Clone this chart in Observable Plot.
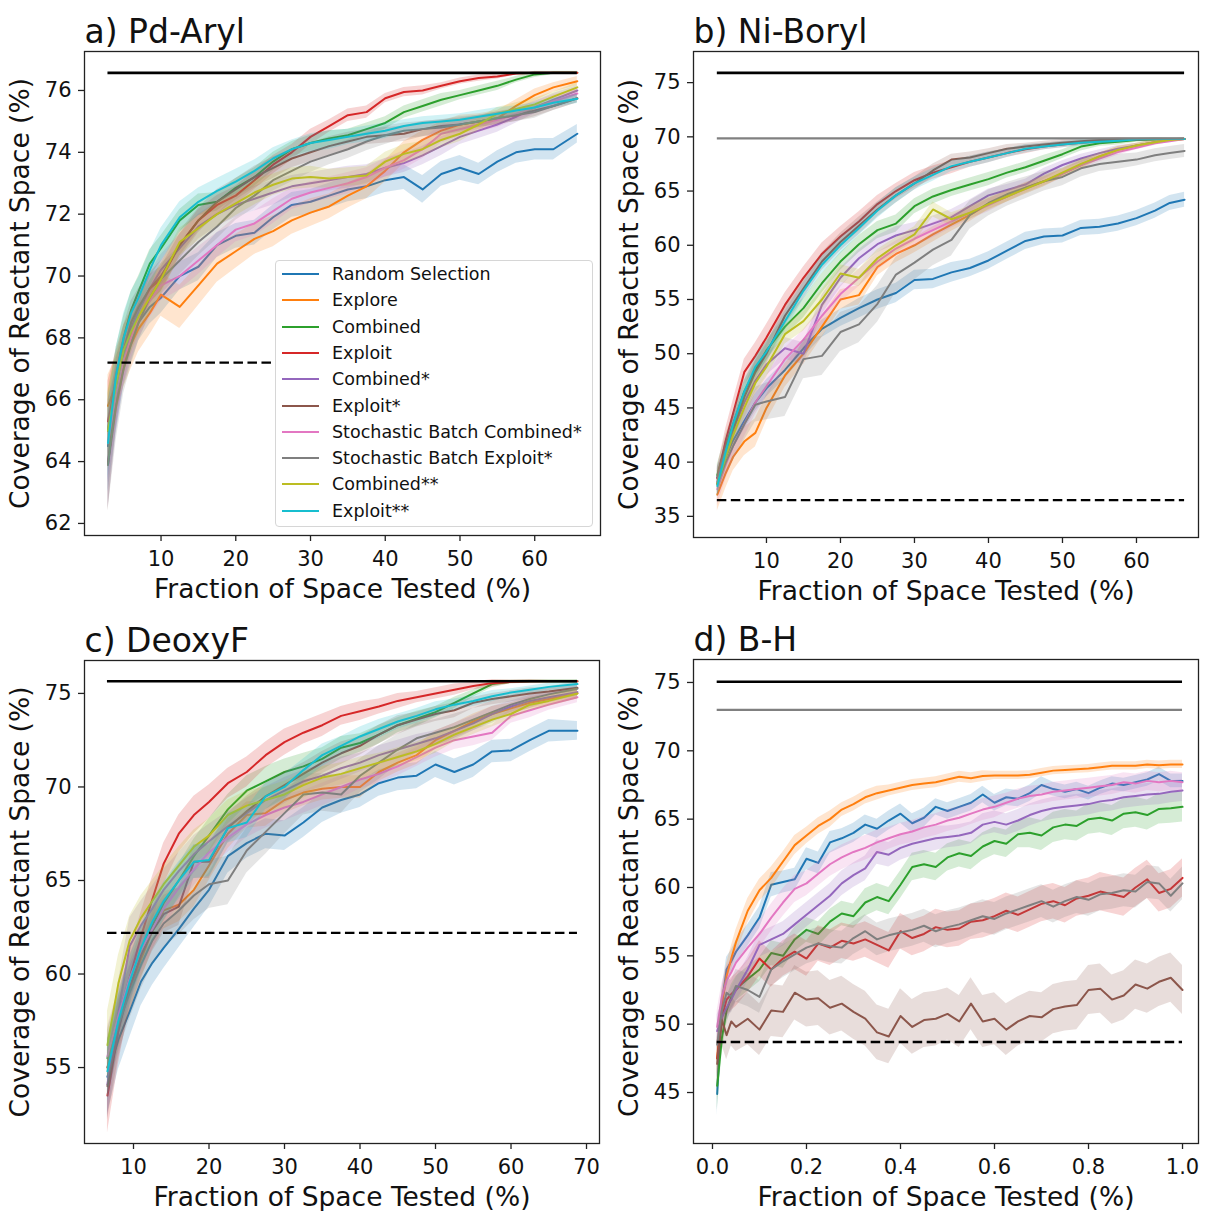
<!DOCTYPE html>
<html>
<head>
<meta charset="utf-8">
<script src="https://cdn.jsdelivr.net/npm/d3@7"></script>
<script src="https://cdn.jsdelivr.net/npm/@observablehq/plot@0.6"></script>
<style>
  html, body { margin: 0; padding: 0; background: #ffffff; }
  #fig { position: relative; width: 1207px; height: 1211px; background: #ffffff; font-family: "DejaVu Sans", sans-serif; overflow: hidden; }
  .panel { position: absolute; }
  .panel svg { display: block; overflow: visible; }
  #legend { position: absolute; left: 275px; top: 260px; width: 318px; height: 267px; box-sizing: border-box;
            background: #ffffff; border: 1px solid #d6d6d6; border-radius: 4px; }
  .lg-row { position: absolute; left: 0; height: 26px; width: 100%; }
  .lg-line { position: absolute; left: 6px; top: 12px; width: 37px; height: 2px; }
  .lg-text { position: absolute; left: 56px; top: 0; line-height: 26px; font-size: 17.5px; color: #111; white-space: nowrap; font-family: "DejaVu Sans", sans-serif; }
  #err { position: absolute; left: 10px; top: 10px; color: red; font-size: 14px; }
</style>
</head>
<body>
<div id="fig"></div>
<script>
// ---------------- series ----------------
const seriesNames = ["Random Selection", "Explore", "Combined", "Exploit", "Combined*", "Exploit*",
  "Stochastic Batch Combined*", "Stochastic Batch Exploit*", "Combined**", "Exploit**"];
const palette = ["#1f77b4", "#ff7f0e", "#2ca02c", "#d62728", "#9467bd", "#8c564b",
  "#e377c2", "#7f7f7f", "#bcbd22", "#17becf"];

// ---------------- a) Pd-Aryl ----------------
const xA = [2.9, 4, 5, 6, 7, 8.5, 10, 12.5, 15, 17.5, 20, 22.5, 25, 27.5, 30, 32.5, 35, 37.5, 40, 42.5, 45, 47.5, 50, 52.5, 55, 57.5, 60, 62.5, 65.7];
const meanA = [
  [64.5, 66.0, 67.2, 67.9, 68.5, 69.0, 69.3, 70.0, 70.3, 71.0, 71.3, 71.4, 71.9, 72.3, 72.4, 72.6, 72.8, 72.9, 73.1, 73.2, 72.8, 73.3, 73.5, 73.3, 73.7, 74.0, 74.1, 74.1, 74.6],
  [65.8, 66.5, 67.2, 67.8, 68.3, 68.8, 69.4, 69.0, 69.7, 70.4, 70.8, 71.2, 71.45, 71.8, 72.05, 72.25, 72.6, 72.9, 73.4, 74.0, 74.4, 74.7, 74.9, 75.0, 75.1, 75.5, 75.85, 76.1, 76.3],
  [65.0, 66.8, 68.0, 68.9, 69.5, 70.4, 70.9, 71.8, 72.3, 72.4, 72.85, 73.2, 73.7, 74.1, 74.3, 74.45, 74.55, 74.75, 74.95, 75.3, 75.5, 75.7, 75.85, 76.0, 76.15, 76.35, 76.52, 76.57, 76.57],
  [65.3, 66.6, 67.6, 68.3, 68.9, 69.6, 69.9, 71.0, 71.8, 72.3, 72.6, 73.1, 73.6, 74.0, 74.5, 74.85, 75.2, 75.3, 75.75, 75.95, 76.0, 76.15, 76.3, 76.4, 76.45, 76.55, 76.57, 76.57, 76.57],
  [64.0, 66.0, 67.3, 68.2, 68.9, 69.6, 70.2, 70.9, 71.6, 72.0, 72.3, 72.5, 72.7, 72.9, 73.0, 73.1, 73.2, 73.3, 73.5, 73.65, 73.9, 74.2, 74.5, 74.7, 74.9, 75.15, 75.45, 75.7, 76.0],
  [63.9, 66.2, 67.6, 68.5, 69.0, 69.6, 70.0, 71.0, 71.8, 72.4, 72.8, 73.2, 73.5, 73.8, 74.0, 74.2, 74.35, 74.5, 74.55, 74.6, 74.75, 74.85, 74.9, 75.0, 75.1, 75.2, 75.35, 75.5, 75.75],
  [64.6, 66.2, 67.3, 68.0, 68.6, 69.2, 69.7, 70.0, 70.5, 71.0, 71.5, 71.7, 72.1, 72.5, 72.7, 72.85, 73.0, 73.2, 73.5, 73.75, 74.1, 74.6, 74.75, 74.9, 75.05, 75.25, 75.45, 75.65, 75.9],
  [63.9, 65.8, 67.0, 67.8, 68.5, 69.3, 69.9, 70.5, 71.1, 71.6, 72.2, 72.6, 73.1, 73.4, 73.7, 73.9, 74.1, 74.35, 74.55, 74.7, 74.75, 74.8, 74.9, 75.0, 75.1, 75.2, 75.3, 75.5, 75.75],
  [65.0, 66.5, 67.6, 68.2, 68.7, 69.3, 69.9, 71.1, 71.55, 72.0, 72.35, 72.7, 72.95, 73.15, 73.2, 73.15, 73.2, 73.25, 73.7, 73.95, 74.1, 74.4, 74.6, 74.9, 75.25, 75.4, 75.55, 75.8, 76.1],
  [64.6, 66.8, 68.0, 68.8, 69.3, 70.2, 71.0, 71.9, 72.4, 72.75, 73.05, 73.4, 73.8, 74.1, 74.3, 74.4, 74.5, 74.6, 74.7, 74.85, 74.95, 75.0, 75.05, 75.15, 75.25, 75.35, 75.45, 75.6, 75.73]
];
const errA = [
  [1.5, 1.0, 0.8, 0.7, 0.6, 0.55, 0.5, 0.45, 0.45, 0.4, 0.4, 0.4, 0.4, 0.4, 0.4, 0.4, 0.4, 0.4, 0.4, 0.4, 0.45, 0.4, 0.4, 0.35, 0.35, 0.35, 0.35, 0.35, 0.3],
  [1.0, 0.9, 0.8, 0.8, 0.75, 0.7, 0.7, 0.7, 0.65, 0.6, 0.55, 0.5, 0.5, 0.45, 0.45, 0.4, 0.4, 0.4, 0.35, 0.35, 0.3, 0.3, 0.3, 0.25, 0.25, 0.2, 0.2, 0.15, 0.15],
  [1.2, 0.9, 0.7, 0.6, 0.5, 0.45, 0.4, 0.35, 0.35, 0.3, 0.3, 0.3, 0.3, 0.25, 0.25, 0.25, 0.2, 0.2, 0.2, 0.2, 0.2, 0.2, 0.15, 0.15, 0.15, 0.1, 0.1, 0.05, 0.05],
  [1.3, 1.0, 0.8, 0.6, 0.5, 0.45, 0.4, 0.35, 0.35, 0.3, 0.3, 0.3, 0.3, 0.25, 0.25, 0.2, 0.2, 0.2, 0.15, 0.15, 0.15, 0.1, 0.1, 0.1, 0.08, 0.05, 0.03, 0.03, 0.03],
  [1.5, 1.1, 0.8, 0.7, 0.6, 0.5, 0.5, 0.45, 0.4, 0.4, 0.4, 0.4, 0.4, 0.35, 0.35, 0.35, 0.35, 0.3, 0.3, 0.3, 0.3, 0.3, 0.25, 0.25, 0.25, 0.2, 0.2, 0.2, 0.15],
  [1.5, 1.1, 0.8, 0.7, 0.6, 0.5, 0.5, 0.45, 0.4, 0.4, 0.35, 0.35, 0.35, 0.3, 0.3, 0.3, 0.3, 0.25, 0.25, 0.25, 0.25, 0.2, 0.2, 0.2, 0.2, 0.2, 0.2, 0.15, 0.15],
  [1.3, 1.0, 0.8, 0.7, 0.6, 0.55, 0.5, 0.45, 0.45, 0.4, 0.4, 0.4, 0.4, 0.35, 0.35, 0.35, 0.35, 0.3, 0.3, 0.3, 0.3, 0.3, 0.25, 0.25, 0.25, 0.2, 0.2, 0.2, 0.15],
  [1.5, 1.1, 0.8, 0.7, 0.6, 0.55, 0.5, 0.45, 0.45, 0.4, 0.4, 0.4, 0.35, 0.35, 0.35, 0.3, 0.3, 0.3, 0.3, 0.25, 0.25, 0.25, 0.25, 0.2, 0.2, 0.2, 0.2, 0.15, 0.15],
  [1.3, 1.0, 0.8, 0.7, 0.6, 0.55, 0.5, 0.45, 0.4, 0.4, 0.4, 0.4, 0.35, 0.35, 0.35, 0.3, 0.3, 0.3, 0.3, 0.3, 0.25, 0.25, 0.25, 0.2, 0.2, 0.2, 0.2, 0.15, 0.15],
  [1.2, 0.9, 0.8, 0.7, 0.65, 0.6, 0.55, 0.5, 0.45, 0.4, 0.4, 0.35, 0.35, 0.3, 0.3, 0.3, 0.25, 0.25, 0.25, 0.2, 0.2, 0.2, 0.2, 0.2, 0.2, 0.15, 0.15, 0.15, 0.15]
];
const solidA = [76.57];
const grayA = [];
const dashA = [67.2];

// ---------------- b) Ni-Boryl ----------------
const xB = [3.36, 4.5, 5.5, 7, 8.5, 10, 12.5, 15, 17.5, 20, 22.5, 25, 27.5, 30, 32.5, 35, 37.5, 40, 42.5, 45, 47.5, 50, 52.5, 55, 57.5, 60, 62.5, 64.5, 66.5];
const meanB = [
  [38.6, 40.5, 42.0, 43.8, 45.5, 46.8, 48.5, 50.5, 52.3, 53.3, 54.2, 55.0, 55.6, 56.8, 56.9, 57.5, 57.9, 58.6, 59.5, 60.4, 60.8, 60.9, 61.6, 61.7, 62.0, 62.5, 63.2, 63.9, 64.2],
  [37.0, 39.0, 40.5, 41.9, 42.7, 45.0, 48.0, 50.0, 52.5, 55.0, 55.4, 58.0, 59.2, 60.0, 61.0, 61.9, 62.8, 63.8, 64.5, 65.3, 65.9, 66.6, 67.4, 68.2, 68.8, 69.2, 69.5, 69.7, 69.8],
  [38.8, 41.5, 43.5, 46.5, 48.5, 50.3, 52.5, 54.2, 56.5, 58.5, 60.1, 61.4, 62.0, 63.6, 64.5, 65.1, 65.6, 66.1, 66.7, 67.2, 67.8, 68.4, 69.1, 69.4, 69.55, 69.7, 69.75, 69.8, 69.8],
  [38.5, 42.0, 44.5, 48.3, 49.8, 51.5, 54.5, 57.0, 59.2, 60.8, 62.2, 63.8, 65.0, 66.0, 66.7, 67.2, 67.7, 68.1, 68.5, 68.85, 69.1, 69.3, 69.45, 69.6, 69.7, 69.75, 69.8, 69.8, 69.8],
  [38.2, 41.0, 43.0, 45.5, 47.5, 49.0, 50.5, 50.0, 54.5, 57.0, 58.8, 60.1, 60.9, 61.4, 62.0, 62.6, 63.6, 64.6, 65.1, 65.6, 66.6, 67.4, 68.0, 68.5, 68.9, 69.2, 69.5, 69.7, 69.8],
  [38.0, 41.0, 43.0, 46.0, 48.3, 50.0, 53.5, 56.0, 58.5, 60.3, 61.8, 63.3, 64.6, 65.7, 66.9, 67.9, 68.1, 68.5, 68.9, 69.1, 69.3, 69.45, 69.6, 69.7, 69.75, 69.8, 69.8, 69.8, 69.8],
  [37.5, 39.8, 41.5, 43.5, 45.5, 47.0, 49.5, 51.3, 53.5, 55.5, 57.0, 58.5, 59.7, 60.6, 61.4, 62.2, 63.0, 63.7, 64.5, 65.2, 65.9, 66.6, 67.4, 68.0, 68.6, 69.0, 69.4, 69.6, 69.8],
  [38.0, 40.0, 41.5, 43.5, 45.3, 45.6, 46.0, 49.5, 49.8, 52.0, 52.7, 54.6, 57.3, 58.4, 59.6, 60.5, 62.8, 63.9, 64.7, 65.3, 65.9, 66.3, 67.1, 67.5, 67.7, 67.9, 68.3, 68.5, 68.7],
  [38.0, 40.5, 42.5, 45.0, 47.3, 48.8, 51.8, 53.0, 55.0, 57.4, 57.0, 58.8, 60.0, 61.0, 63.3, 62.4, 63.0, 63.8, 64.5, 65.2, 65.9, 66.7, 67.5, 68.2, 68.8, 69.2, 69.5, 69.7, 69.8],
  [37.8, 41.0, 43.5, 46.5, 48.8, 50.2, 53.0, 55.8, 58.2, 60.0, 61.6, 63.2, 64.6, 65.7, 66.5, 67.3, 67.7, 68.1, 68.5, 68.9, 69.1, 69.3, 69.45, 69.55, 69.65, 69.75, 69.8, 69.8, 69.8]
];
const errB = [
  [1.0, 0.9, 0.8, 0.8, 0.8, 0.8, 0.8, 0.8, 0.8, 0.8, 0.9, 0.9, 0.9, 0.9, 0.9, 0.9, 0.8, 0.8, 0.8, 0.8, 0.7, 0.7, 0.7, 0.7, 0.7, 0.7, 0.7, 0.7, 0.7],
  [1.5, 1.4, 1.3, 1.3, 1.3, 1.2, 1.1, 1.0, 1.0, 0.9, 0.9, 0.8, 0.8, 0.7, 0.7, 0.6, 0.6, 0.5, 0.5, 0.5, 0.4, 0.4, 0.4, 0.3, 0.3, 0.2, 0.2, 0.1, 0.1],
  [1.0, 1.0, 1.0, 1.0, 0.9, 0.9, 0.9, 0.9, 0.9, 0.8, 0.8, 0.8, 0.8, 0.7, 0.7, 0.6, 0.6, 0.6, 0.5, 0.5, 0.5, 0.4, 0.4, 0.3, 0.3, 0.2, 0.2, 0.1, 0.1],
  [1.0, 1.1, 1.2, 1.2, 1.2, 1.2, 1.1, 1.0, 1.0, 0.9, 0.9, 0.8, 0.7, 0.7, 0.6, 0.6, 0.5, 0.5, 0.4, 0.4, 0.3, 0.3, 0.2, 0.2, 0.2, 0.1, 0.1, 0.1, 0.1],
  [1.2, 1.0, 1.0, 1.0, 1.0, 1.0, 1.0, 1.0, 0.9, 0.9, 0.8, 0.8, 0.8, 0.7, 0.7, 0.7, 0.6, 0.6, 0.5, 0.5, 0.5, 0.4, 0.4, 0.3, 0.3, 0.2, 0.2, 0.1, 0.1],
  [1.0, 1.0, 1.0, 1.0, 1.0, 0.9, 0.9, 0.9, 0.8, 0.8, 0.8, 0.7, 0.7, 0.6, 0.6, 0.5, 0.5, 0.4, 0.4, 0.3, 0.3, 0.3, 0.2, 0.2, 0.2, 0.1, 0.1, 0.1, 0.1],
  [1.5, 1.4, 1.3, 1.2, 1.1, 1.0, 1.0, 0.9, 0.9, 0.8, 0.8, 0.8, 0.7, 0.7, 0.7, 0.6, 0.6, 0.6, 0.5, 0.5, 0.5, 0.4, 0.4, 0.3, 0.3, 0.2, 0.2, 0.1, 0.1],
  [1.2, 1.3, 1.4, 1.5, 1.6, 1.7, 1.8, 1.8, 1.8, 1.8, 1.7, 1.7, 1.6, 1.6, 1.5, 1.5, 1.3, 1.2, 1.1, 1.0, 0.9, 0.8, 0.8, 0.7, 0.7, 0.6, 0.6, 0.6, 0.6],
  [1.2, 1.1, 1.0, 1.0, 1.0, 1.0, 0.9, 0.9, 0.9, 0.8, 0.8, 0.8, 0.7, 0.7, 0.7, 0.6, 0.6, 0.6, 0.5, 0.5, 0.5, 0.4, 0.4, 0.3, 0.3, 0.2, 0.2, 0.1, 0.1],
  [1.0, 1.0, 1.0, 1.0, 0.9, 0.9, 0.9, 0.8, 0.8, 0.8, 0.7, 0.7, 0.7, 0.6, 0.6, 0.5, 0.5, 0.5, 0.4, 0.4, 0.3, 0.3, 0.3, 0.2, 0.2, 0.1, 0.1, 0.1, 0.1]
];
const solidB = [75.9];
const grayB = [69.85];
const dashB = [36.5];

// ---------------- c) DeoxyF ----------------
const xC = [6.55, 8, 9.5, 11, 12.5, 14, 16, 18, 20, 22.5, 25, 27.5, 30, 32.5, 35, 37.5, 40, 42.5, 45, 47.5, 50, 52.5, 55, 57.5, 60, 62.5, 65, 68.8];
const meanC = [
  [54.5, 56.5, 58.0, 59.6, 60.6, 61.4, 62.4, 63.5, 64.5, 66.3, 67.0, 67.5, 67.4, 68.1, 68.9, 69.3, 69.6, 70.2, 70.5, 70.6, 71.2, 70.8, 71.2, 71.9, 71.95, 72.5, 73.0, 73.0],
  [55.0, 57.3, 59.2, 60.8, 62.3, 63.4, 63.7, 64.5, 65.8, 67.5, 68.5, 68.6, 69.3, 69.7, 69.9, 70.0, 70.0, 70.8, 71.3, 71.7, 72.5, 73.0, 73.5, 73.9, 74.2, 74.5, 74.7, 75.0],
  [55.5, 57.8, 59.8, 61.3, 62.6, 63.8, 65.0, 66.3, 67.4, 68.8, 69.8, 70.3, 70.8, 71.1, 71.5, 72.1, 72.35, 72.8, 73.3, 73.65, 74.0, 74.5, 75.0, 75.5, 75.62, 75.65, 75.65, 75.65],
  [53.5, 57.0, 59.8, 62.0, 64.0, 65.9, 67.5, 68.5, 69.2, 70.2, 70.8, 71.7, 72.4, 72.9, 73.3, 73.8, 74.05, 74.3, 74.6, 74.8, 75.0, 75.2, 75.4, 75.55, 75.62, 75.65, 75.65, 75.65],
  [54.1, 58.0, 61.5, 62.6, 63.5, 64.5, 65.5, 66.4, 67.1, 67.9, 68.6, 69.3, 69.8, 70.3, 70.6, 71.0, 71.3, 71.7, 72.0, 72.3, 72.6, 73.0, 73.4, 73.9, 74.3, 74.6, 74.8, 75.07],
  [54.0, 57.0, 59.3, 61.0, 62.3, 63.2, 63.6, 66.0, 66.0, 67.8, 68.7, 69.5, 70.1, 70.7, 71.3, 71.8, 72.2, 72.8, 73.3, 73.6, 73.9, 74.1, 74.5, 74.7, 74.85, 75.0, 75.1, 75.3],
  [55.6, 57.8, 59.8, 61.3, 62.4, 63.5, 64.6, 65.6, 66.5, 67.3, 68.0, 68.5, 68.9, 69.2, 69.6, 70.0, 70.4, 70.7, 71.1, 71.6, 72.1, 72.5, 72.7, 72.9, 73.8, 74.1, 74.4, 74.8],
  [55.0, 57.3, 59.0, 60.5, 61.8, 62.7, 63.4, 64.2, 64.8, 65.0, 66.6, 67.6, 68.6, 69.6, 69.7, 69.6, 70.6, 71.3, 72.0, 72.6, 72.9, 73.2, 73.6, 74.0, 74.4, 74.7, 74.95, 75.25],
  [56.2, 59.5, 61.8, 63.0, 63.9, 64.8, 65.8, 66.8, 67.4, 68.5, 69.0, 69.3, 69.6, 70.1, 70.5, 70.7, 71.0, 71.3, 71.6, 71.9, 72.3, 72.8, 73.2, 73.6, 73.9, 74.4, 74.6, 75.0],
  [54.8, 57.5, 59.6, 61.4, 62.8, 63.9, 65.0, 66.0, 66.1, 67.8, 68.1, 69.5, 70.0, 70.9, 71.7, 72.2, 72.7, 73.1, 73.5, 73.8, 74.15, 74.4, 74.6, 74.85, 75.05, 75.2, 75.35, 75.5]
];
const errC = [
  [2.0, 1.6, 1.4, 1.3, 1.2, 1.1, 1.0, 1.0, 0.9, 0.9, 0.8, 0.8, 0.8, 0.8, 0.8, 0.7, 0.7, 0.7, 0.7, 0.7, 0.7, 0.7, 0.7, 0.6, 0.6, 0.6, 0.6, 0.5],
  [1.5, 1.3, 1.2, 1.1, 1.0, 1.0, 0.9, 0.9, 0.8, 0.8, 0.7, 0.7, 0.7, 0.7, 0.6, 0.6, 0.6, 0.5, 0.5, 0.5, 0.5, 0.4, 0.4, 0.4, 0.3, 0.3, 0.3, 0.3],
  [1.5, 1.3, 1.2, 1.1, 1.0, 1.0, 0.9, 0.9, 0.9, 0.8, 0.8, 0.8, 0.7, 0.7, 0.6, 0.6, 0.5, 0.5, 0.4, 0.4, 0.3, 0.3, 0.2, 0.2, 0.1, 0.1, 0.1, 0.1],
  [2.0, 1.8, 1.5, 1.3, 1.2, 1.1, 1.0, 1.0, 0.9, 0.8, 0.8, 0.7, 0.7, 0.6, 0.6, 0.5, 0.5, 0.4, 0.4, 0.3, 0.3, 0.3, 0.2, 0.2, 0.1, 0.1, 0.05, 0.05],
  [1.8, 1.6, 1.5, 1.3, 1.2, 1.1, 1.0, 1.0, 0.9, 0.8, 0.8, 0.7, 0.7, 0.6, 0.6, 0.6, 0.5, 0.5, 0.5, 0.5, 0.4, 0.4, 0.4, 0.4, 0.3, 0.3, 0.3, 0.3],
  [1.8, 1.5, 1.3, 1.2, 1.1, 1.0, 1.0, 0.9, 0.9, 0.8, 0.8, 0.7, 0.7, 0.6, 0.6, 0.6, 0.5, 0.5, 0.5, 0.4, 0.4, 0.4, 0.3, 0.3, 0.3, 0.3, 0.2, 0.2],
  [1.6, 1.4, 1.3, 1.2, 1.1, 1.0, 0.9, 0.9, 0.8, 0.8, 0.7, 0.7, 0.7, 0.6, 0.6, 0.6, 0.5, 0.5, 0.5, 0.5, 0.5, 0.5, 0.5, 0.4, 0.4, 0.4, 0.3, 0.3],
  [1.6, 1.5, 1.4, 1.3, 1.3, 1.3, 1.3, 1.3, 1.3, 1.3, 1.2, 1.2, 1.1, 1.1, 1.0, 1.0, 0.9, 0.9, 0.8, 0.8, 0.7, 0.7, 0.6, 0.6, 0.5, 0.5, 0.4, 0.4],
  [1.8, 1.5, 1.3, 1.2, 1.1, 1.0, 1.0, 0.9, 0.9, 0.8, 0.8, 0.7, 0.7, 0.7, 0.6, 0.6, 0.6, 0.5, 0.5, 0.5, 0.5, 0.4, 0.4, 0.4, 0.3, 0.3, 0.3, 0.3],
  [1.6, 1.4, 1.3, 1.2, 1.1, 1.0, 1.0, 0.9, 0.9, 0.8, 0.8, 0.7, 0.7, 0.6, 0.6, 0.5, 0.5, 0.5, 0.4, 0.4, 0.4, 0.3, 0.3, 0.3, 0.2, 0.2, 0.2, 0.2]
];
const solidC = [75.65];
const grayC = [];
const dashC = [62.2];

// ---------------- d) B-H ----------------
const xD = [0.01, 0.02, 0.03, 0.04, 0.05, 0.075, 0.1, 0.125, 0.15, 0.175, 0.2, 0.225, 0.25, 0.275, 0.3, 0.325, 0.35, 0.375, 0.4, 0.425,
  0.45, 0.475, 0.5, 0.525, 0.55, 0.575, 0.6, 0.625, 0.65, 0.675, 0.7, 0.725, 0.75, 0.775, 0.8, 0.825, 0.85, 0.875, 0.9, 0.925, 0.95, 0.975, 1.0];
const meanD = [
  [44.9, 51.5, 54.0, 54.6, 55.3, 56.5, 57.8, 60.2, 60.4, 60.6, 62.1, 61.8, 63.3, 63.6, 64.0, 64.6, 64.3, 64.9, 65.4, 64.7, 65.1, 65.9, 65.6, 65.9, 66.2, 66.8, 66.2, 66.6, 66.5, 66.9, 67.5, 67.2, 67.0, 67.2, 66.9, 67.3, 67.6, 67.5, 67.7, 67.9, 68.3, 67.8, 67.8],
  [47.5, 51.5, 53.5, 54.8, 56.0, 58.3, 59.8, 60.7, 61.9, 63.1, 63.8, 64.5, 65.0, 65.7, 66.1, 66.6, 66.9, 67.1, 67.3, 67.5, 67.6, 67.7, 67.9, 68.1, 68.0, 68.15, 68.2, 68.2, 68.2, 68.25, 68.4, 68.55, 68.6, 68.65, 68.7, 68.8, 68.9, 68.9, 68.9, 69.0, 68.95, 69.0, 69.0],
  [45.5, 49.0, 51.0, 52.0, 52.6, 53.3, 54.0, 55.2, 55.0, 56.2, 56.9, 56.6, 57.5, 58.1, 57.9, 58.9, 59.3, 59.0, 60.2, 61.5, 61.7, 61.5, 62.2, 62.5, 62.3, 63.0, 63.4, 63.2, 63.9, 64.0, 63.8, 64.4, 64.6, 64.5, 65.0, 65.1, 64.9, 65.4, 65.5, 65.3, 65.75, 65.8, 65.9],
  [47.5, 50.5, 51.8, 52.2, 52.5, 53.5, 54.8, 54.0, 54.8, 55.3, 54.8, 55.9, 55.6, 56.1, 55.9, 56.2, 55.8, 55.4, 56.8, 56.3, 56.6, 57.1, 56.9, 57.0, 57.5, 57.6, 57.9, 58.3, 58.0, 58.4, 58.8, 59.0, 58.7, 59.2, 59.4, 59.7, 59.5, 59.3, 60.0, 60.6, 59.6, 59.9, 60.7],
  [49.5, 50.5, 51.2, 51.8, 52.5, 54.0, 55.8, 56.2, 56.6, 57.3, 58.0, 58.7, 59.4, 60.3, 60.9, 61.4, 62.6, 62.4, 62.9, 63.2, 63.4, 63.6, 63.7, 63.8, 64.0, 64.6, 64.8, 64.6, 64.9, 65.3, 65.6, 65.8, 65.9, 66.0, 66.1, 66.3, 66.4, 66.6, 66.7, 66.8, 66.85, 67.0, 67.1],
  [47.1, 50.3, 49.2, 50.2, 49.8, 50.4, 49.6, 51.0, 50.9, 52.3, 51.8, 51.9, 51.2, 51.5, 50.9, 50.4, 49.4, 49.1, 50.6, 49.8, 50.3, 50.4, 50.75, 50.2, 51.5, 50.2, 50.4, 49.6, 50.2, 50.6, 50.5, 51.1, 51.3, 51.4, 52.5, 52.6, 51.8, 52.1, 52.9, 52.6, 53.1, 53.4, 52.5],
  [49.8, 52.0, 53.2, 53.8, 54.5, 55.6, 56.6, 57.8, 58.9, 59.9, 60.3, 61.0, 61.7, 62.2, 62.6, 62.9, 63.3, 63.6, 63.9, 64.1, 64.4, 64.6, 64.9, 65.1, 65.4, 65.7, 65.9, 66.2, 66.5, 66.7, 66.8, 67.0, 67.1, 67.2, 67.3, 67.4, 67.5, 67.7, 67.6, 67.8, 67.7, 67.8, 67.7],
  [48.5, 51.0, 52.3, 52.0, 52.8, 52.5, 52.0, 54.0, 54.6, 55.1, 55.6, 55.9, 55.7, 55.6, 56.3, 56.8, 56.2, 56.5, 56.7, 56.9, 57.2, 56.8, 57.1, 57.3, 57.6, 57.9, 57.7, 58.1, 58.4, 58.7, 59.0, 58.6, 59.0, 59.3, 59.1, 59.5, 59.6, 59.8, 59.7, 60.4, 60.3, 59.4, 60.3]
];
const errD = [
  [1.6, 1.1, 0.9, 0.8, 0.8, 0.8, 0.8, 0.9, 0.8, 0.8, 0.8, 0.8, 0.8, 0.7, 0.7, 0.7, 0.7, 0.7, 0.7, 0.7, 0.7, 0.6, 0.6, 0.6, 0.6, 0.6, 0.6, 0.6, 0.6, 0.6, 0.6, 0.5, 0.5, 0.5, 0.5, 0.5, 0.5, 0.5, 0.5, 0.5, 0.5, 0.5, 0.5],
  [1.2, 1.0, 0.9, 0.9, 0.9, 0.9, 0.8, 0.8, 0.7, 0.7, 0.6, 0.6, 0.6, 0.5, 0.5, 0.5, 0.5, 0.4, 0.4, 0.4, 0.4, 0.4, 0.4, 0.4, 0.4, 0.4, 0.3, 0.3, 0.3, 0.3, 0.3, 0.3, 0.3, 0.3, 0.3, 0.3, 0.3, 0.3, 0.3, 0.3, 0.3, 0.3, 0.3],
  [1.8, 1.3, 1.0, 0.9, 0.9, 0.9, 0.9, 0.9, 0.9, 0.9, 0.9, 0.9, 0.9, 0.9, 0.9, 1.0, 1.0, 1.0, 1.0, 1.0, 1.0, 1.0, 1.0, 1.0, 1.0, 1.0, 1.0, 1.0, 1.0, 1.1, 1.1, 1.1, 1.1, 1.1, 1.1, 1.1, 1.1, 1.1, 1.1, 1.1, 1.1, 1.1, 1.1],
  [1.5, 1.3, 1.2, 1.2, 1.2, 1.2, 1.3, 1.3, 1.3, 1.3, 1.3, 1.3, 1.3, 1.3, 1.3, 1.3, 1.3, 1.3, 1.3, 1.3, 1.3, 1.3, 1.3, 1.3, 1.3, 1.3, 1.3, 1.3, 1.3, 1.3, 1.3, 1.3, 1.3, 1.3, 1.3, 1.4, 1.4, 1.4, 1.4, 1.4, 1.4, 1.4, 1.4],
  [1.2, 1.0, 0.9, 0.9, 0.9, 0.9, 0.9, 0.9, 0.9, 0.9, 0.9, 0.9, 0.9, 0.9, 0.9, 0.9, 0.9, 0.9, 0.9, 0.9, 0.9, 0.9, 0.8, 0.8, 0.8, 0.8, 0.8, 0.8, 0.8, 0.8, 0.8, 0.8, 0.8, 0.8, 0.8, 0.8, 0.8, 0.8, 0.8, 0.8, 0.8, 0.8, 0.8],
  [1.8, 1.8, 1.8, 1.8, 1.8, 1.9, 1.9, 1.9, 1.9, 2.0, 2.0, 2.0, 2.0, 2.0, 2.0, 2.0, 2.0, 2.0, 2.0, 2.0, 2.0, 2.0, 1.9, 1.9, 1.9, 1.9, 1.9, 1.9, 1.8, 1.8, 1.8, 1.8, 1.8, 1.8, 1.8, 1.8, 1.8, 1.8, 1.8, 1.8, 1.8, 1.8, 1.8],
  [1.2, 1.0, 1.0, 1.0, 1.0, 1.0, 1.0, 1.0, 1.0, 1.0, 0.9, 0.9, 0.9, 0.9, 0.9, 0.9, 0.9, 0.8, 0.8, 0.8, 0.8, 0.8, 0.8, 0.8, 0.8, 0.8, 0.8, 0.7, 0.7, 0.7, 0.7, 0.7, 0.7, 0.7, 0.7, 0.7, 0.7, 0.7, 0.7, 0.7, 0.7, 0.7, 0.7],
  [1.5, 1.3, 1.2, 1.2, 1.2, 1.2, 1.2, 1.2, 1.2, 1.2, 1.2, 1.2, 1.2, 1.2, 1.2, 1.2, 1.2, 1.2, 1.2, 1.2, 1.2, 1.2, 1.2, 1.2, 1.2, 1.2, 1.2, 1.2, 1.2, 1.2, 1.2, 1.2, 1.2, 1.2, 1.2, 1.2, 1.2, 1.2, 1.2, 1.2, 1.2, 1.2, 1.2]
];
const solidD = [75.05];
const grayD = [73.0];
const dashD = [48.7];

// ---------------- text ----------------
const titles = ["a) Pd-Aryl", "b) Ni-Boryl", "c) DeoxyF", "d) B-H"];
const xLabel = "Fraction of Space Tested (%)";
const yLabel = "Coverage of Reactant Space (%)";
const ticksA = {x: [10, 20, 30, 40, 50, 60], y: [62, 64, 66, 68, 70, 72, 74, 76]};
const ticksB = {x: [10, 20, 30, 40, 50, 60], y: [35, 40, 45, 50, 55, 60, 65, 70, 75]};
const ticksC = {x: [10, 20, 30, 40, 50, 60, 70], y: [55, 60, 65, 70, 75]};
const ticksD = {x: [0, 0.2, 0.4, 0.6, 0.8, 1.0], y: [45, 50, 55, 60, 65, 70, 75]};

// ---------------- rendering ----------------
const fig = document.getElementById("fig");
const problems = [];

function check(name, xs, mean, err, n) {
  if (mean.length !== n || err.length !== n) problems.push(name + " rows");
  mean.forEach((r, i) => { if (r.length !== xs.length) problems.push(name + " mean " + i + ":" + r.length); });
  err.forEach((r, i) => { if (r.length !== xs.length) problems.push(name + " err " + i + ":" + r.length); });
}

function panel(cfg) {
  const {xs, mean, err, count, solid, gray, dash, title, ticks, xFmt, layout} = cfg;
  const x0 = xs[0], x1 = xs[xs.length - 1];
  const marks = [];
  for (let i = 0; i < count; i++) {
    const d = xs.map((x, j) => ({x, y: mean[i][j], lo: mean[i][j] - err[i][j], hi: mean[i][j] + err[i][j]}));
    marks.push(Plot.areaY(d, {x: "x", y1: "lo", y2: "hi", fill: palette[i], fillOpacity: 0.2}));
    marks.push(Plot.lineY(d, {x: "x", y: "y", stroke: palette[i], strokeWidth: 2}));
  }
  const refRows = (vals) => vals.map(v => ({v, a: x0, b: x1}));
  marks.push(Plot.ruleY(refRows(gray), {y: "v", x1: "a", x2: "b", stroke: "#808080", strokeWidth: 2.2}));
  marks.push(Plot.ruleY(refRows(solid), {y: "v", x1: "a", x2: "b", stroke: "#000000", strokeWidth: 2.6}));
  marks.push(Plot.ruleY(refRows(dash), {y: "v", x1: "a", x2: "b", stroke: "#000000", strokeWidth: 2.4, strokeDasharray: "9.5,4.5"}));
  marks.push(Plot.frame({stroke: "#222222", strokeWidth: 1.3}));
  marks.push(Plot.axisX({ticks: ticks.x, tickFormat: xFmt, tickSize: 6, tickPadding: 10, fontSize: 21, label: null, stroke: "#222222", strokeWidth: 1.3}));
  marks.push(Plot.axisY({ticks: ticks.y, tickFormat: d3.format("d"), tickSize: 6, tickPadding: 7, fontSize: 21, label: null, stroke: "#222222", strokeWidth: 1.3}));
  marks.push(Plot.text([xLabel], {text: d => d, frameAnchor: "bottom", textAnchor: "middle", lineAnchor: "bottom", dy: 62, fontSize: 26.5, fill: "#111111"}));
  marks.push(Plot.text([yLabel], {text: d => d, frameAnchor: "left", textAnchor: "middle", rotate: -90, lineAnchor: "middle", dx: -64, fontSize: 26.5, fill: "#111111"}));
  marks.push(Plot.text([title], {text: d => d, frameAnchor: "top-left", textAnchor: "start", lineAnchor: "bottom", dy: -9, dx: 0, fontSize: 33, fill: "#111111"}));

  const svg = Plot.plot({
    width: layout.width, height: layout.height,
    marginLeft: layout.ml, marginRight: layout.mr, marginTop: layout.mt, marginBottom: layout.mb,
    x: {domain: layout.xd, label: null},
    y: {domain: layout.yd, label: null},
    style: {fontFamily: "DejaVu Sans", fontSize: "21px", color: "#111111", background: "transparent", overflow: "visible"},
    marks
  });
  const holder = document.createElement("div");
  holder.className = "panel";
  holder.style.left = layout.left + "px";
  holder.style.top = layout.top + "px";
  holder.appendChild(svg);
  fig.appendChild(holder);
}

check("A", xA, meanA, errA, 10);
check("B", xB, meanB, errB, 10);
check("C", xC, meanC, errC, 10);
check("D", xD, meanD, errD, 8);

const intFmt = d3.format("d");
panel({xs: xA, mean: meanA, err: errA, count: 10, solid: solidA, gray: grayA, dash: dashA, title: titles[0], ticks: ticksA, xFmt: intFmt,
  layout: {left: 0, top: 0, width: 603, height: 605, ml: 84, mr: 3, mt: 51, mb: 70, xd: [-0.24, 68.8], yd: [61.61, 77.26]}});
panel({xs: xB, mean: meanB, err: errB, count: 10, solid: solidB, gray: grayB, dash: dashB, title: titles[1], ticks: ticksB, xFmt: intFmt,
  layout: {left: 603, top: 0, width: 604, height: 605, ml: 90, mr: 9, mt: 51, mb: 68, xd: [0.14, 68.38], yd: [33.05, 77.87]}});
panel({xs: xC, mean: meanC, err: errC, count: 10, solid: solidC, gray: grayC, dash: dashC, title: titles[2], ticks: ticksC, xFmt: intFmt,
  layout: {left: 0, top: 605, width: 603, height: 606, ml: 84, mr: 4, mt: 55, mb: 68, xd: [3.51, 71.72], yd: [50.94, 76.76]}});
panel({xs: xD, mean: meanD, err: errD, count: 8, solid: solidD, gray: grayD, dash: dashD, title: titles[3], ticks: ticksD, xFmt: d3.format(".1f"),
  layout: {left: 603, top: 605, width: 604, height: 606, ml: 90, mr: 9, mt: 54, mb: 68, xd: [-0.0404, 1.034], yd: [41.27, 76.68]}});

// legend (panel a)
const legend = document.createElement("div");
legend.id = "legend";
seriesNames.forEach((name, i) => {
  const row = document.createElement("div");
  row.className = "lg-row";
  row.style.top = (i * 26.3) + "px";
  const ln = document.createElement("div");
  ln.className = "lg-line";
  ln.style.background = palette[i];
  const tx = document.createElement("div");
  tx.className = "lg-text";
  tx.textContent = name;
  row.appendChild(ln);
  row.appendChild(tx);
  legend.appendChild(row);
});
fig.appendChild(legend);

if (problems.length) {
  const e = document.createElement("div");
  e.id = "err";
  e.textContent = "DATA LENGTH: " + problems.join(", ");
  fig.appendChild(e);
}
</script>
</body>
</html>
